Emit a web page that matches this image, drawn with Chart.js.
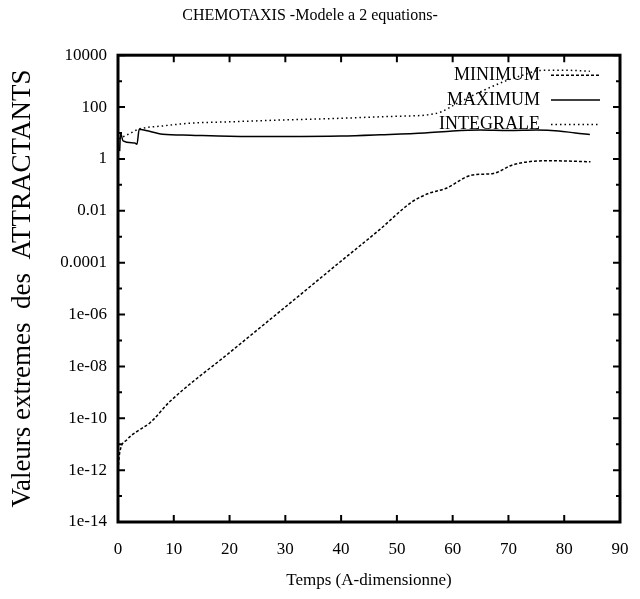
<!DOCTYPE html>
<html>
<head>
<meta charset="utf-8">
<script src="https://cdn.jsdelivr.net/npm/chart.js@4.4.1/dist/chart.umd.min.js"></script>
<style>
  html, body { margin: 0; padding: 0; background: #fff; }
</style>
</head>
<body>
<canvas id="chart" width="640" height="599"></canvas>
<script>
// values
const minTime = [0, 0.3, 1.55, 3.3, 5.7, 9.3, 20, 30, 40, 46.8, 52.7, 55.7, 58.7, 63.5, 67.3, 70.6, 73.6, 77.8, 84.7];
const minValues = [1e-12, 4.6e-12, 1.45e-11, 3e-11, 6.6e-11, 4.4e-10, 3.4e-8, 1.95e-6, 1.15e-4, 1.8e-3, 0.022, 0.047, 0.072, 0.24, 0.275, 0.575, 0.78, 0.85, 0.78];

const maxTime = [0.3, 0.45, 0.9, 3.0, 3.4, 3.8, 5, 8, 13, 20, 30, 40, 47, 55, 60, 65, 70, 75, 79, 82, 84.6];
const maxValues = [2.0, 10, 5.0, 4.1, 3.7, 14, 12.5, 9, 8.2, 7.5, 7.3, 7.6, 8.5, 10, 12, 13, 12.5, 13, 12, 10, 8.8];

const intTime = [0.2, 2.5, 3.7, 7.9, 13.2, 20, 30, 40, 46.8, 50, 53, 55.5, 58, 60.5, 64.6, 69.4, 73, 75.4, 80, 84.6];
const intValues = [6, 10.5, 14, 18.6, 24, 27, 32, 37, 42, 44, 46, 50, 66, 129, 355, 1000, 1820, 2570, 2630, 2400];

const xTicks = [0, 10, 20, 30, 40, 50, 60, 70, 80, 90];
const yTickValues = [1e-14, 1e-12, 1e-10, 1e-8, 1e-6, 1e-4, 1e-2, 1, 100, 10000];
const yTickLabels = ['1e-14', '1e-12', '1e-10', '1e-08', '1e-06', '0.0001', '0.01', '1', '100', '10000'];
const yMinorTicks = [1e-13, 1e-11, 1e-9, 1e-7, 1e-5, 1e-3, 1e-1, 10, 1000];

const serif = '"Liberation Serif", "Times New Roman", serif';

function points(xs, ys) {
  return xs.map((t, i) => ({ x: t, y: ys[i] }));
}

// gnuplot-like frame with ticks pointing inward on all four sides
const frameTicks = {
  id: 'frameTicks',
  afterDatasetsDraw(chart) {
    const { ctx, chartArea: a, scales: { x, y } } = chart;
    ctx.save();
    ctx.strokeStyle = '#000';
    ctx.lineWidth = 2;
    ctx.beginPath();
    xTicks.forEach(v => {
      const px = x.getPixelForValue(v);
      ctx.moveTo(px, a.bottom); ctx.lineTo(px, a.bottom - 7);
      ctx.moveTo(px, a.top); ctx.lineTo(px, a.top + 7);
    });
    yTickValues.forEach(v => {
      const py = y.getPixelForValue(v);
      ctx.moveTo(a.left, py); ctx.lineTo(a.left + 7, py);
      ctx.moveTo(a.right, py); ctx.lineTo(a.right - 7, py);
    });
    yMinorTicks.forEach(v => {
      const py = y.getPixelForValue(v);
      ctx.moveTo(a.left, py); ctx.lineTo(a.left + 4, py);
      ctx.moveTo(a.right, py); ctx.lineTo(a.right - 4, py);
    });
    ctx.stroke();
    ctx.lineWidth = 3;
    ctx.strokeRect(a.left, a.top, a.width, a.height);
    ctx.restore();
  }
};

// key in the top right corner: text right aligned, sample line after it
const keyBox = {
  id: 'keyBox',
  afterDraw(chart) {
    const { ctx, chartArea: a } = chart;
    ctx.save();
    ctx.font = '18px ' + serif;
    ctx.textAlign = 'right';
    ctx.textBaseline = 'middle';
    ctx.fillStyle = '#000';
    ctx.strokeStyle = '#000';
    chart.data.datasets.forEach((ds, i) => {
      const yy = a.top + 20 + i * 24.7;
      ctx.fillText(ds.label, a.right - 80, yy);
      ctx.setLineDash(ds.borderDash || []);
      ctx.lineWidth = ds.borderWidth;
      ctx.beginPath();
      ctx.moveTo(a.right - 69, yy);
      ctx.lineTo(a.right - 20, yy);
      ctx.stroke();
    });
    ctx.restore();
  }
};

new Chart(document.getElementById('chart'), {
  type: 'line',
  data: {
    datasets: [
      {
        label: 'MINIMUM',
        data: points(minTime, minValues),
        borderColor: '#000',
        borderWidth: 1.5,
        borderDash: [3, 2],
        pointRadius: 0,
        cubicInterpolationMode: 'monotone'
      },
      {
        label: 'MAXIMUM',
        data: points(maxTime, maxValues),
        borderColor: '#000',
        borderWidth: 1.5,
        pointRadius: 0,
        cubicInterpolationMode: 'monotone'
      },
      {
        label: 'INTEGRALE',
        data: points(intTime, intValues),
        borderColor: '#000',
        borderWidth: 1.5,
        borderDash: [1.5, 3],
        pointRadius: 0,
        cubicInterpolationMode: 'monotone'
      }
    ]
  },
  options: {
    responsive: false,
    animation: false,
    layout: { padding: { left: 0, right: 20, top: 0, bottom: 0 } },
    plugins: {
      legend: { display: false },
      tooltip: { enabled: false },
      title: {
        display: true,
        text: 'CHEMOTAXIS -Modele a 2 equations-',
        color: '#000',
        font: { family: serif, size: 16, weight: 'normal' },
        padding: { top: 6, bottom: 30 }
      }
    },
    scales: {
      x: {
        type: 'linear',
        min: 0,
        max: 90,
        afterFit: s => { s.height = 77; s.paddingLeft = 0; s.paddingRight = 0; },
        grid: { display: false, drawTicks: false, tickLength: 0 },
        border: { display: false },
        ticks: { stepSize: 10, padding: 17, color: '#000', font: { family: serif, size: 17 } },
        title: {
          display: true,
          text: 'Temps (A-dimensionne)',
          color: '#000',
          font: { family: serif, size: 17 },
          padding: { top: 0, bottom: 8 }
        }
      },
      y: {
        type: 'logarithmic',
        min: 1e-14,
        max: 1e4,
        afterFit: s => { s.width = 118; },
        afterBuildTicks: s => { s.ticks = yTickValues.map(v => ({ value: v })); },
        grid: { display: false, drawTicks: false, tickLength: 0 },
        border: { display: false },
        ticks: {
          autoSkip: false,
          padding: 11,
          color: '#000',
          font: { family: serif, size: 17 },
          callback: (v, i) => yTickLabels[i]
        },
        title: {
          display: true,
          text: 'Valeurs extremes  des  ATTRACTANTS',
          color: '#000',
          font: { family: serif, size: 27 },
          padding: { top: 7, bottom: 0 }
        }
      }
    }
  },
  plugins: [frameTicks, keyBox]
});
</script>
</body>
</html>
